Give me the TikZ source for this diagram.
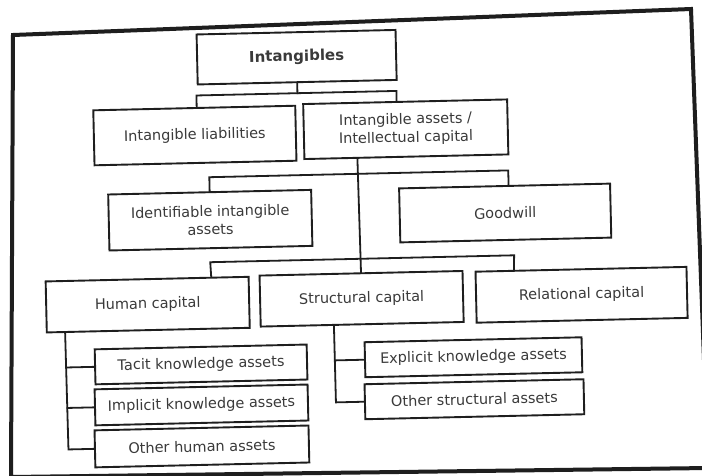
\documentclass[tikz,border=0pt]{standalone}
\usepackage{fontspec}
\setmainfont{DejaVu Sans}
\usetikzlibrary{calc}
\definecolor{ink}{HTML}{1E1E1E}
\definecolor{txt}{HTML}{3A3A3A}
\begin{document}
\begin{tikzpicture}[x=1pt,y=1pt,
  box/.style={draw=ink, line width=1.9pt, fill=white, inner sep=0pt,
    align=center, text=txt, font=\fontsize{14.5}{18}\selectfont},
  link/.style={draw=ink, line width=1.8pt, line cap=rect},
  frame/.style={draw=ink, line width=4pt, line join=miter}]
\useasboundingbox (0,0) rectangle (702,-475);
\clip (0,0) rectangle (702,-475);
\fill[white] (0,0) rectangle (702,-475);

% outer border of the page
\draw[frame] (13,-35) -- (691,-9) -- (708,-468) -- (11,-477) -- cycle;

\begin{scope}[rotate around={1.3:(351,-250)}, transform shape]
  % boxes
  \node[box, minimum width=199pt, minimum height=50pt,
        font=\fontsize{15}{18}\selectfont\bfseries] (intang) at (301,-56) {Intangibles};
  \node[box, minimum width=202pt, minimum height=55pt] (liab) at (197.5,-132) {Intangible liabilities};
  \node[box, minimum width=204pt, minimum height=55pt] (assets) at (408.5,-130.5) {Intangible assets /\\Intellectual capital};
  \node[box, minimum width=203pt, minimum height=56pt] (ident) at (211,-217) {Identifiable intangible\\assets};
  \node[box, minimum width=211pt, minimum height=54pt] (good) at (506,-216.5) {Goodwill};
  \node[box, minimum width=203pt, minimum height=51pt] (human) at (146.5,-300) {Human capital};
  \node[box, minimum width=203pt, minimum height=51pt] (struct) at (360.5,-299) {Structural capital};
  \node[box, minimum width=211pt, minimum height=51pt] (rel) at (580.5,-300) {Relational capital};
  \node[box, minimum width=212pt, minimum height=35pt] (tacit) at (198.5,-361) {Tacit knowledge assets};
  \node[box, minimum width=213pt, minimum height=36pt] (impl) at (198,-401.5) {Implicit knowledge assets};
  \node[box, minimum width=214pt, minimum height=37pt] (ohum) at (197.5,-443) {Other human assets};
  \node[box, minimum width=217pt, minimum height=35pt] (expl) at (471,-360) {Explicit knowledge assets};
  \node[box, minimum width=219pt, minimum height=35pt] (ostr) at (471,-402) {Other structural assets};

  % junction points of the buses
  \coordinate (j1m) at (301,-92);
  \coordinate (j1l) at (200,-92);
  \coordinate (j1r) at (400,-92);
  \coordinate (j2l) at (211,-174);
  \coordinate (j2r) at (510,-174);
  \coordinate (j3l) at (210,-259);
  \coordinate (j3r) at (514,-259);
  \coordinate (h1) at (64,-361);
  \coordinate (h2) at (64,-401.5);
  \coordinate (h3) at (64,-443);
  \coordinate (s1) at (332.5,-360);
  \coordinate (s2) at (332.5,-402);

  % first level
  \draw[link] (intang.south) -- (j1m);
  \draw[link] ($(liab.north west)!0.512!(liab.north east)$) -- (j1l) -- (j1r)
        -- ($(assets.north west)!0.458!(assets.north east)$);

  % trunk below the intellectual capital box
  \draw[link] ($(assets.south west)!0.262!(assets.south east)$) -- (struct.north);
  \draw[link] (ident.north) -- (j2l) -- (j2r)
        -- ($(good.north west)!0.519!(good.north east)$);
  \draw[link] ($(human.north west)!0.813!(human.north east)$) -- (j3l) -- (j3r)
        -- ($(rel.north west)!0.185!(rel.north east)$);

  % human capital branches
  \draw[link] ($(human.south west)!0.094!(human.south east)$) -- (h3) -- (ohum.west);
  \draw[link] (h1) -- (tacit.west);
  \draw[link] (h2) -- (impl.west);

  % structural capital branches
  \draw[link] ($(struct.south west)!0.362!(struct.south east)$) -- (s2) -- (ostr.west);
  \draw[link] (s1) -- (expl.west);
\end{scope}
\end{tikzpicture}
\end{document}
